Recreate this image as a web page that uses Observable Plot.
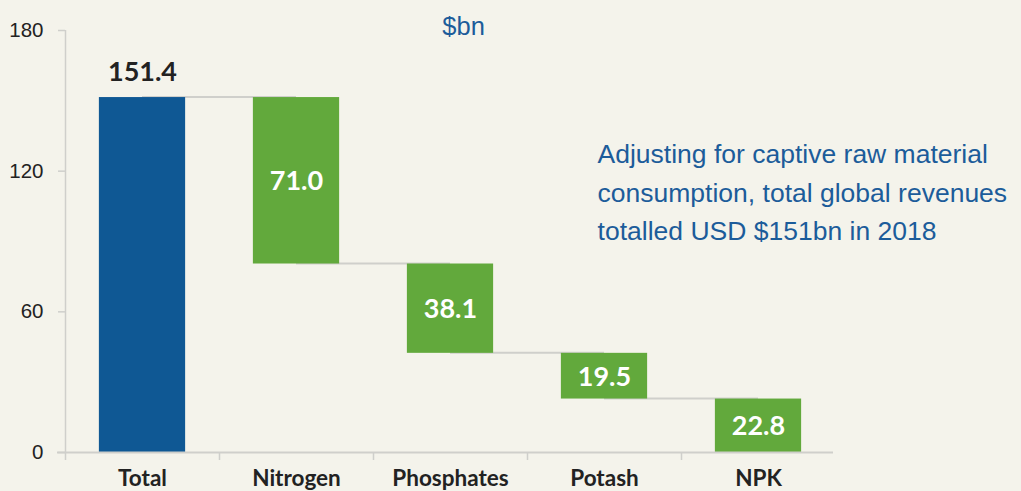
<!DOCTYPE html>
<html>
<head>
<meta charset="utf-8">
<script src="https://cdn.jsdelivr.net/npm/d3@7"></script>
<script src="https://cdn.jsdelivr.net/npm/@observablehq/plot@0.6"></script>
<style>
  html, body { margin: 0; padding: 0; background: #f4f3eb; }
  #chart svg { display: block; background: #f4f3eb; }
</style>
</head>
<body>
<div id="chart"></div>
<script>
const categories = ["Total", "Nitrogen", "Phosphates", "Potash", "NPK"];
const values = [151.4, 71.0, 38.1, 19.5, 22.8];
const yTicks = [0, 60, 120, 180];
const unitLabel = "$bn";
const annotationLines = [
  "Adjusting for captive raw material",
  "consumption, total global revenues",
  "totalled USD $151bn in 2018"
];

// Build waterfall segments
const rows = [];
let level = values[0];
rows.push({i: 0, cat: categories[0], v: values[0], y1: 0, y2: values[0], total: true});
for (let k = 1; k < categories.length; k++) {
  const top = level;
  level = +(level - values[k]).toFixed(1);
  rows.push({i: k, cat: categories[k], v: values[k], y1: level, y2: top, total: false});
}
// connectors between consecutive bars
const connectors = [];
for (let k = 0; k < rows.length - 1; k++) {
  const lvl = rows[k].total ? rows[k].y2 : rows[k].y1;
  connectors.push({x1: k + 0.5, x2: k + 1.5, y: lvl});
}

const pad = 0.22;
const blue = "#0f5894";
const green = "#62a93c";
const axisGrey = "#cfcfcb";
const textBlue = "#1c5c9a";
const sans = "Liberation Sans, Arial, sans-serif";

const plot = Plot.plot({
  width: 1021,
  height: 491,
  marginTop: 30,
  marginBottom: 39,
  marginLeft: 65,
  marginRight: 186,
  style: {background: "#f4f3eb", fontFamily: sans, overflow: "visible"},
  x: {domain: [0, categories.length], axis: null},
  y: {domain: [0, 180], axis: null},
  marks: [
    // connectors
    Plot.ruleY(connectors, {x1: "x1", x2: "x2", y: "y", stroke: axisGrey, strokeWidth: 2, dy: -0.5}),
    // bars
    Plot.rectY(rows, {
      x1: d => d.i + pad, x2: d => d.i + 1 - pad,
      y1: "y1", y2: "y2",
      fill: d => d.total ? blue : green
    }),
    // y axis
    Plot.ruleX([0], {y1: 0, y2: 180, stroke: axisGrey, strokeWidth: 1.5}),
    Plot.axisY({ticks: yTicks, tickSize: 7, tickPadding: 15, stroke: axisGrey, strokeWidth: 1.5,
      fill: "#222", fontSize: 20.5, fontFamily: sans}),
    // x axis
    Plot.ruleY([0], {stroke: axisGrey, strokeWidth: 2, insetLeft: -8, insetRight: 2}),
    Plot.axisX({ticks: d3.range(0, categories.length), tickSize: 8, stroke: axisGrey, strokeWidth: 1.5, tickFormat: () => ""}),
    Plot.text(rows, {x: d => d.i + 0.5, y: 0, text: "cat", dy: 26, fontSize: 22.5, fontWeight: "bold",
      fontFamily: "Lato, sans-serif", fill: "#222"}),
    // value labels
    Plot.text(rows.filter(d => d.total), {x: d => d.i + 0.5, y: "y2", text: d => d.v.toFixed(1),
      lineAnchor: "bottom", dy: -17, fontSize: 27, fontWeight: "bold", fontFamily: "Lato, sans-serif", fill: "#222"}),
    Plot.text(rows.filter(d => !d.total), {x: d => d.i + 0.5, y: d => (d.y1 + d.y2) / 2, text: d => d.v.toFixed(1),
      dy: 1, fontSize: 27, fontWeight: "bold", fontFamily: "Lato, sans-serif", fill: "white"}),
    // unit label
    Plot.text([unitLabel], {x: 2.585, y: 180, text: d => d, dy: -3.5, fontSize: 25.5, fill: textBlue,
      fontFamily: sans}),
    // annotation
    Plot.text([annotationLines.join("\n")], {x: 3.455, y: 112.2, text: d => d, textAnchor: "start",
      lineAnchor: "middle", lineHeight: 1.45, fontSize: 26.5, fill: textBlue,
      fontFamily: sans})
  ]
});
document.getElementById("chart").append(plot);
</script>
</body>
</html>
